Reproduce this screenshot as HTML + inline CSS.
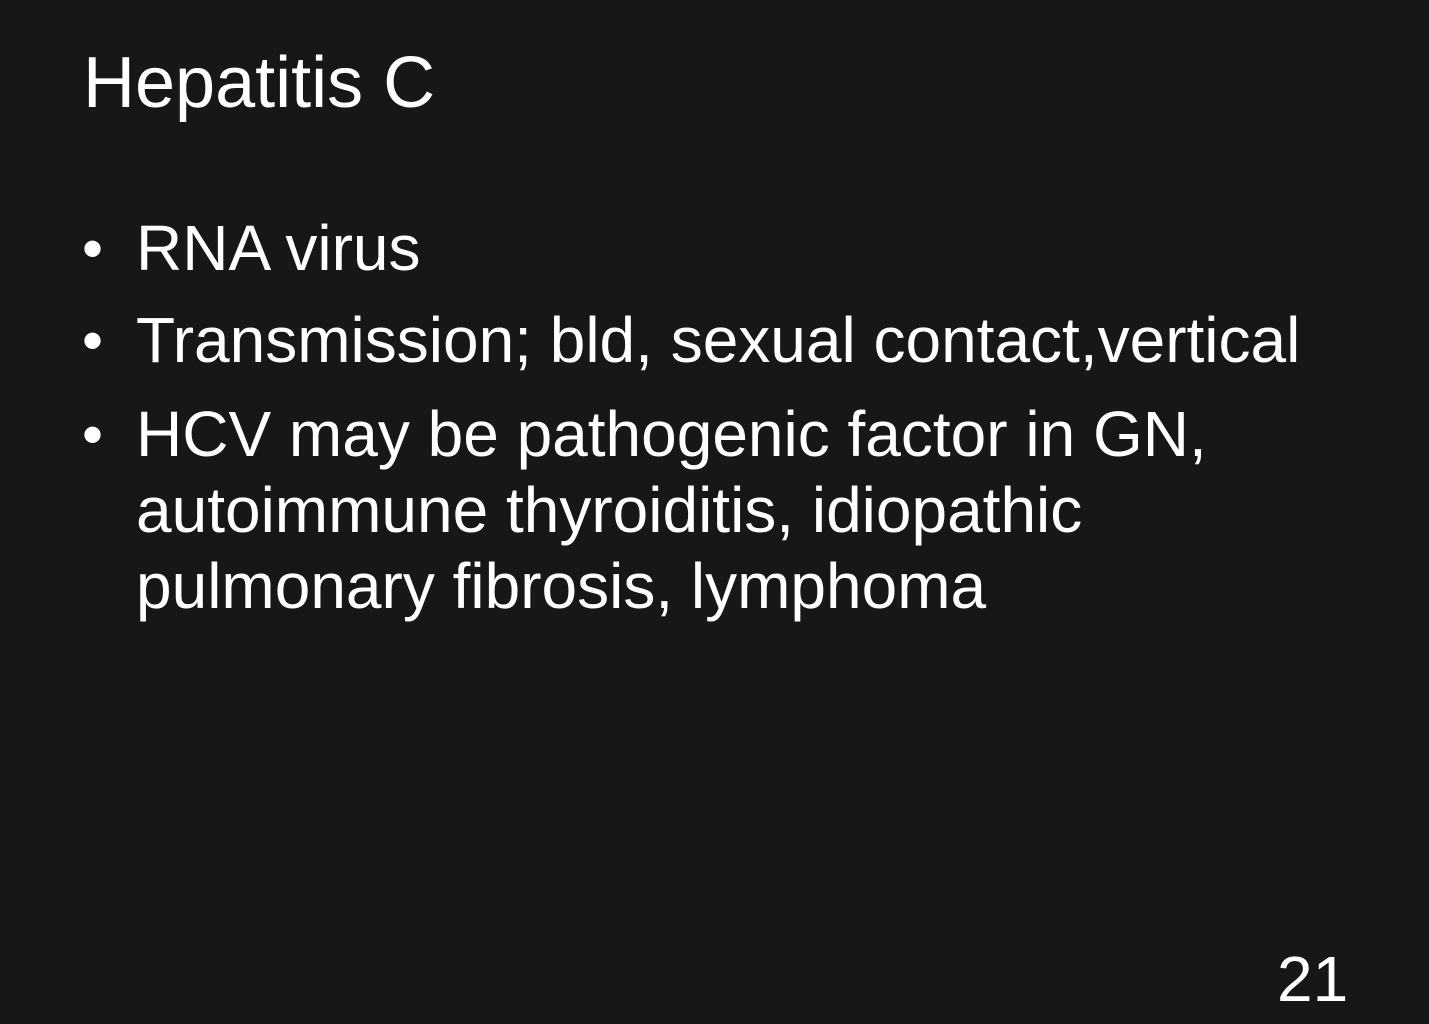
<!DOCTYPE html>
<html><head><meta charset="utf-8"><style>
html,body{margin:0;padding:0;}
body{width:1429px;height:1024px;background:#171717;position:relative;overflow:hidden;font-family:"Liberation Sans",Arial,sans-serif;color:#fff;}
.t{position:absolute;line-height:1;white-space:nowrap;}
.b{font-size:64px;}
.dot{position:absolute;font-size:60px;line-height:1;}
</style></head><body>
<div class="t" style="left:83px;top:47px;font-size:72px;">Hepatitis C</div>
<div>
<div class="dot" style="left:82px;top:219px;">•</div>
<div class="t b" style="left:136px;top:216px;">RNA virus</div>
<div class="dot" style="left:82px;top:311px;">•</div>
<div class="t b" style="left:136px;top:308px;">Transmission; bld, sexual contact,vertical</div>
<div class="dot" style="left:82px;top:405px;">•</div>
<div class="t b" style="left:136px;top:402px;">HCV may be pathogenic factor in GN,</div>
<div class="t b" style="left:136px;top:478px;">autoimmune thyroiditis, idiopathic</div>
<div class="t b" style="left:136px;top:554px;">pulmonary fibrosis, lymphoma</div>
</div>
<div class="t" style="left:1277px;top:947px;font-size:64px;">21</div>
</body></html>
